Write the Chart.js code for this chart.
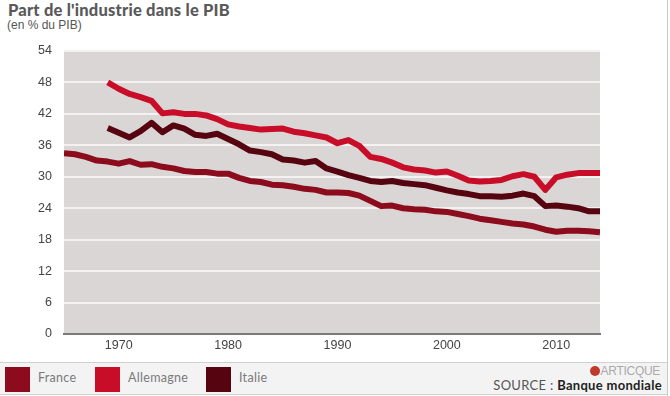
<!DOCTYPE html>
<html>
<head>
<meta charset="utf-8">
<script src="https://cdn.jsdelivr.net/npm/chart.js@4"></script>
<style>
body{margin:0;background:#fff;width:670px;height:396px;overflow:hidden;position:relative;font-family:"Liberation Sans",Arial,sans-serif}
#titre{position:absolute;left:8px;top:0px;font-family:Lato,sans-serif;font-weight:900;font-size:16.5px;color:#5a5a5a;letter-spacing:0.2px}
#sous{position:absolute;left:7px;top:18px;font-size:12px;color:#555}
#zone{position:absolute;left:0;top:0;width:670px;height:360px}
#pied{position:absolute;left:0;top:362px;width:667px;height:31px;background:#f3f3f3;border-top:1px solid #d0d0d0;border-bottom:1px solid #d0d0d0}
.carre{position:absolute;top:4px;width:25px;height:25px}
.lib{position:absolute;top:7px;font-family:Lato,sans-serif;font-size:12.5px;color:#7a7a7a;letter-spacing:0.3px}
#bord{position:absolute;left:667px;top:0;width:1px;height:396px;background:#c8c8c8}
#logo{position:absolute;right:7px;top:1px;font-size:12px;color:#aaa;letter-spacing:-0.3px}
#logo span{display:inline-block;width:10px;height:10px;border-radius:50%;background:#c0392b;margin-right:1px;vertical-align:-1px}
#source{position:absolute;right:5px;top:14px;font-family:Lato,sans-serif;font-size:13px;color:#555;letter-spacing:0.3px}
#source b{color:#222;font-weight:700}
</style>
</head>
<body>
<div id="titre">Part de l'industrie dans le PIB</div>
<div id="sous">(en % du PIB)</div>
<div id="zone"><canvas id="graphique"></canvas></div>
<div id="pied">
<div class="carre" style="left:5px;background:#8c0c1e"></div><div class="lib" style="left:38px">France</div>
<div class="carre" style="left:95px;background:#c70d28"></div><div class="lib" style="left:128px">Allemagne</div>
<div class="carre" style="left:206px;background:#560510"></div><div class="lib" style="left:239px">Italie</div>
<div id="logo"><span></span>ARTICQUE</div>
<div id="source">SOURCE : <b>Banque mondiale</b></div>
</div>
<div id="bord"></div>
<script>

let anneesFrance=[1965,1966,1967,1968,1969,1970,1971,1972,1973,1974,1975,1976,1977,1978,1979,1980,1981,1982,1983,1984,1985,1986,1987,1988,1989,1990,1991,1992,1993,1994,1995,1996,1997,1998,1999,2000,2001,2002,2003,2004,2005,2006,2007,2008,2009,2010,2011,2012,2013,2014]
let france=[34.5,34.3,33.8,33.1,32.9,32.5,33.0,32.3,32.4,31.9,31.6,31.1,30.9,30.9,30.6,30.6,29.8,29.2,29.0,28.5,28.4,28.1,27.7,27.5,27.0,27.0,26.9,26.4,25.4,24.4,24.5,24.0,23.8,23.7,23.4,23.3,22.9,22.5,22.0,21.7,21.4,21.1,20.9,20.5,19.9,19.5,19.7,19.7,19.6,19.4]

let anneesAutres=[1969,1970,1971,1972,1973,1974,1975,1976,1977,1978,1979,1980,1981,1982,1983,1984,1985,1986,1987,1988,1989,1990,1991,1992,1993,1994,1995,1996,1997,1998,1999,2000,2001,2002,2003,2004,2005,2006,2007,2008,2009,2010,2011,2012,2013,2014]
let allemagne=[48.0,46.8,45.8,45.2,44.5,42.1,42.3,42.0,42.0,41.7,41.0,40.0,39.6,39.3,39.0,39.1,39.2,38.6,38.3,37.9,37.5,36.4,37.0,35.9,33.8,33.4,32.7,31.8,31.4,31.2,30.8,31.0,30.2,29.3,29.1,29.2,29.4,30.1,30.5,30.0,27.5,29.9,30.4,30.7,30.7,30.7]
let italie=[39.3,38.4,37.5,38.7,40.3,38.5,39.8,39.2,38.0,37.8,38.2,37.2,36.2,35.0,34.7,34.3,33.3,33.1,32.7,33.0,31.6,31.0,30.3,29.8,29.2,29.0,29.2,28.8,28.6,28.4,27.9,27.4,27.0,26.7,26.3,26.3,26.2,26.4,26.8,26.3,24.4,24.5,24.3,24.0,23.4,23.4]

let ticksAnnees=[1970,1980,1990,2000,2010]
let ticksPourcent=[0,6,12,18,24,30,36,42,48,54]


function points(annees,valeurs){
return annees.map((a,i)=>({x:a,y:valeurs[i]}))
}

function serie(nom,annees,valeurs,couleur){
return {
label:nom,
data:points(annees,valeurs),
borderColor:couleur,
backgroundColor:couleur,
borderWidth:6,
pointRadius:0,
tension:0,
borderJoinStyle:"round"
}
}


// fond gris de la zone de tracé
let fondGris={
id:"fondGris",
beforeDraw(chart){
let {ctx,chartArea:a}=chart
ctx.save()
ctx.fillStyle="#dad6d6"
ctx.fillRect(a.left,a.top,a.right-a.left,a.bottom-a.top)
ctx.restore()
}
}


new Chart(document.getElementById("graphique"),{

type:"line",

data:{
datasets:[
serie("Italie",anneesAutres,italie,"#560510"),
serie("France",anneesFrance,france,"#8c0c1e"),
serie("Allemagne",anneesAutres,allemagne,"#c70d28")
]
},

options:{
responsive:true,
maintainAspectRatio:false,
animation:false,
layout:{padding:{top:51,right:70,left:0,bottom:0}},
plugins:{legend:{display:false},tooltip:{enabled:false}},
scales:{
x:{
type:"linear",
min:1965,
max:2014,
afterBuildTicks(s){s.ticks=ticksAnnees.map(v=>({value:v}))},
afterFit(s){s.height=26},
grid:{display:false,drawTicks:false},
border:{display:true,color:"#7a7a7a",width:2},
ticks:{color:"#444",padding:4,font:{family:"Liberation Sans",size:12.5},callback:v=>String(v)}
},
y:{
min:0,
max:54,
afterBuildTicks(s){s.ticks=ticksPourcent.map(v=>({value:v}))},
afterFit(s){s.width=64},
grid:{color:"#f3f1f1",lineWidth:2,drawTicks:false},
border:{display:false},
ticks:{color:"#444",padding:12,font:{family:"Liberation Sans",size:12.5}}
}
}
},

plugins:[fondGris]

})

</script>
</body>
</html>
